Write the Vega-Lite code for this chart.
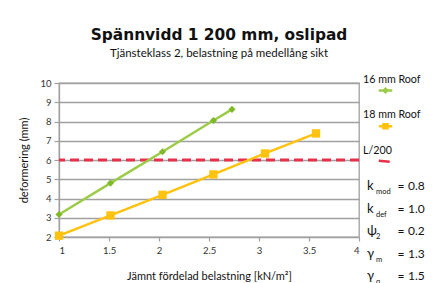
{
  "$schema": "https://vega.github.io/schema/vega-lite/v6.json",
  "width": 300,
  "height": 154,
  "autosize": "none",
  "padding": {"left": 59, "top": 83, "right": 78, "bottom": 46},
  "background": "white",
  "config": {
    "font": "Lato",
    "view": {"stroke": "#a0a0a0", "strokeWidth": 1.3},
    "axis": {"labelFont": "Lato", "titleFont": "Lato", "labelColor": "#333333", "titleColor": "#111111", "labelFontSize": 9.5, "titleFontSize": 11, "titleFontWeight": "normal", "domainColor": "#a0a0a0", "domainWidth": 1.3, "tickColor": "#a0a0a0", "tickWidth": 1.2, "gridColor": "#a0a0a0", "gridOpacity": 1, "gridWidth": 1.3, "labelOverlap": false}
  },
  "title": {
    "text": "Spännvidd 1 200 mm, oslipad",
    "subtitle": "Tjänsteklass 2, belastning på medellång sikt",
    "anchor": "middle",
    "dx": 10,
    "offset": 14,
    "fontSize": 15.4,
    "fontWeight": "bold",
    "color": "#111111",
    "font": "DejaVu Sans",
    "subtitleFont": "Lato",
    "subtitleFontSize": 11.5,
    "subtitleColor": "#111111",
    "subtitlePadding": 5
  },
  "datasets": {
    "series": [
      {"series": "16 mm Roof", "load": 1.0, "deformation": 3.17},
      {"series": "16 mm Roof", "load": 1.515, "deformation": 4.8},
      {"series": "16 mm Roof", "load": 2.035, "deformation": 6.43},
      {"series": "16 mm Roof", "load": 2.544, "deformation": 8.05},
      {"series": "16 mm Roof", "load": 2.73, "deformation": 8.63},
      {"series": "18 mm Roof", "load": 1.0, "deformation": 2.07},
      {"series": "18 mm Roof", "load": 1.515, "deformation": 3.12},
      {"series": "18 mm Roof", "load": 2.035, "deformation": 4.19},
      {"series": "18 mm Roof", "load": 2.544, "deformation": 5.25},
      {"series": "18 mm Roof", "load": 3.06, "deformation": 6.34},
      {"series": "18 mm Roof", "load": 3.57, "deformation": 7.38}
    ],
    "limit": [{"series": "L/200", "deformation": 6}],
    "legend": [
      {"series": "16 mm Roof"},
      {"series": "18 mm Roof"},
      {"series": "L/200"}
    ],
    "params": [
      {"param": "kmod", "sym": "k", "sub": "mod", "eq": "=", "val": "0.8"},
      {"param": "kdef", "sym": "k", "sub": "def", "eq": "=", "val": "1.0"},
      {"param": "psi2", "sym": "ψ", "sub": "2", "eq": "=", "val": "0.2"},
      {"param": "gm", "sym": "γ", "sub": "m", "eq": "=", "val": "1.3"},
      {"param": "gq", "sym": "γ", "sub": "q", "eq": "=", "val": "1.5"}
    ]
  },
  "layer": [
    {
      "layer": [
        {
          "data": {"name": "limit"},
          "mark": {"type": "rule", "strokeWidth": 3, "strokeDash": [9, 5]},
          "encoding": {
            "y": {"field": "deformation", "type": "quantitative", "scale": {"domain": [2, 10], "nice": false, "zero": false},
              "axis": {"tickCount": 8, "grid": true, "tickSize": 5, "labelPadding": 3, "title": "deformering (mm)", "titlePadding": 10}},
            "color": {"field": "series", "type": "nominal", "scale": {"domain": ["16 mm Roof", "18 mm Roof", "L/200"], "range": ["#9ccb48", "#ffc20e", "#e8304a"]}, "legend": null}
          }
        },
        {
          "data": {"name": "series"},
          "mark": {"type": "line", "strokeWidth": 2.5},
          "encoding": {
            "x": {"field": "load", "type": "quantitative", "scale": {"domain": [1, 4], "nice": false, "zero": false},
              "axis": {"tickCount": 6, "grid": false, "domain": false, "tickSize": 4, "labelPadding": 4, "labelExpr": "format(datum.value, '~g')", "title": "Jämnt fördelad belastning [kN/m²]", "titlePadding": 16}},
            "y": {"field": "deformation", "type": "quantitative"},
            "color": {"field": "series", "type": "nominal", "legend": null}
          }
        },
        {
          "data": {"name": "series"},
          "mark": {"type": "point", "filled": true, "opacity": 1, "strokeWidth": 0},
          "encoding": {
            "x": {"field": "load", "type": "quantitative"},
            "y": {"field": "deformation", "type": "quantitative"},
            "shape": {"field": "series", "type": "nominal", "scale": {"domain": ["16 mm Roof", "18 mm Roof"], "range": ["diamond", "square"]}, "legend": null},
            "size": {"field": "series", "type": "nominal", "scale": {"domain": ["16 mm Roof", "18 mm Roof"], "range": [50, 70]}, "legend": null},
            "fill": {"field": "series", "type": "nominal", "scale": {"domain": ["16 mm Roof", "18 mm Roof"], "range": ["#7db928", "#ffc20e"]}, "legend": null}
          }
        }
      ]
    },
    {
      "data": {"name": "params"},
      "layer": [
        {
          "mark": {"type": "text", "align": "left", "baseline": "middle", "dx": 8, "fontSize": 13, "font": "Lato", "color": "#111111"},
          "encoding": {
            "x": {"datum": 4},
            "y": {"field": "param", "type": "ordinal", "sort": null, "scale": {"type": "point", "range": [103, 193], "padding": 0}, "axis": null},
            "text": {"field": "sym"}
          }
        },
        {
          "mark": {"type": "text", "align": "left", "baseline": "middle", "dx": 17, "dy": 6, "fontSize": 7.5, "font": "Lato", "color": "#111111"},
          "encoding": {
            "x": {"datum": 4},
            "y": {"field": "param", "type": "ordinal", "sort": null, "axis": null},
            "text": {"field": "sub"}
          }
        },
        {
          "mark": {"type": "text", "align": "left", "baseline": "middle", "dx": 38.5, "fontSize": 12, "font": "Lato", "color": "#111111"},
          "encoding": {
            "x": {"datum": 4},
            "y": {"field": "param", "type": "ordinal", "sort": null, "axis": null},
            "text": {"field": "eq"}
          }
        },
        {
          "mark": {"type": "text", "align": "left", "baseline": "middle", "dx": 49, "fontSize": 12, "font": "Lato", "color": "#111111"},
          "encoding": {
            "x": {"datum": 4},
            "y": {"field": "param", "type": "ordinal", "sort": null, "axis": null},
            "text": {"field": "val"}
          }
        }
      ]
    },
    {
      "data": {"name": "legend"},
      "layer": [
        {
          "mark": {"type": "text", "align": "left", "baseline": "alphabetic", "dx": 4, "fontSize": 10.7, "font": "Lato", "color": "#111111"},
          "encoding": {
            "x": {"datum": 4},
            "y": {"field": "series", "type": "ordinal", "sort": null, "scale": {"type": "point", "range": [-0.5, 71], "padding": 0}, "axis": null},
            "text": {"field": "series"}
          }
        },
        {
          "mark": {"type": "point", "filled": true, "opacity": 1, "size": 182, "strokeWidth": 2.5, "xOffset": 26.5, "yOffset": 8},
          "encoding": {
            "x": {"datum": 4},
            "y": {"field": "series", "type": "ordinal", "sort": null, "axis": null},
            "shape": {"field": "series", "type": "nominal", "scale": {"domain": ["16 mm Roof", "18 mm Roof", "L/200"], "range": ["M-1,0H1M0,-0.26L0.26,0L0,0.26L-0.26,0Z", "M-1,0H1M-0.3,-0.3H0.3V0.3H-0.3Z", "M-1,-0.2L0.9,0"]}, "legend": null},
            "fill": {"field": "series", "type": "nominal", "scale": {"domain": ["16 mm Roof", "18 mm Roof", "L/200"], "range": ["#7db928", "#ffc20e", "#e8304a"]}, "legend": null},
            "stroke": {"field": "series", "type": "nominal", "scale": {"domain": ["16 mm Roof", "18 mm Roof", "L/200"], "range": ["#9ccb48", "#ffc20e", "#e8304a"]}, "legend": null},
            "strokeDash": {"field": "series", "type": "nominal", "scale": {"domain": ["16 mm Roof", "18 mm Roof", "L/200"], "range": [[1, 0], [1, 0], [11, 4]]}, "legend": null}
          }
        }
      ]
    }
  ],
  "resolve": {"scale": {"y": "independent", "color": "independent", "shape": "independent", "fill": "independent", "stroke": "independent", "strokeDash": "independent", "size": "independent"}}
}
